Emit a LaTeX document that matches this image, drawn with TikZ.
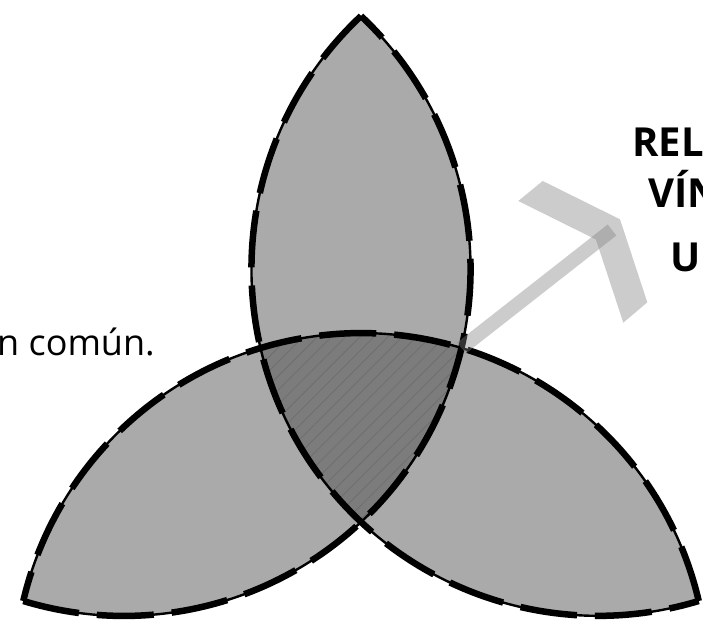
\documentclass[tikz,border=0pt]{standalone}
\usepackage{fontspec}
\setmainfont{Open Sans}
\usetikzlibrary{patterns.meta}
\definecolor{lensgray}{RGB}{170,170,170}
\definecolor{coregray}{RGB}{124,124,124}
\definecolor{hatchgray}{RGB}{110,110,110}
\definecolor{pointergray}{RGB}{128,128,128}
\tikzset{
  lensfill/.style={fill=lensgray},                 % petal
  corefill/.style={fill=coregray},                 % common part
  corehatch/.style={pattern={Lines[angle=45,distance=10pt,line width=0.8pt]},pattern color=hatchgray},
  rimdash/.style={draw=black,line width=6.5pt,dash pattern=on 57pt off 18pt},
  rim/.style={draw=black,line width=2.4pt,postaction={rimdash}},
  pointer/.style={draw=pointergray,opacity=0.4,line width=14pt},
  pointerhead/.style={fill=pointergray,opacity=0.4},
  plain/.style={font=\fontsize{36}{43}\selectfont,inner sep=0pt},
  heading/.style={font=\fontsize{40}{48}\selectfont\bfseries,inner sep=0pt},
}
\newcommand{\ringrad}{346.86}% radius of the three circles

\begin{document}
\begin{tikzpicture}[x=1pt,y=1pt]
  \useasboundingbox (0,0) rectangle (703,626);
  \coordinate (C) at (361,220);
  \path (C) ++(150:116) coordinate (lj);
  \path (C) ++(30:116) coordinate (rj);
  \path (C) ++(270:116) coordinate (bj);
  % petals
  \foreach \p in {30,150,270}
    \fill[lensfill] (C) ++(\p:274) ++(\p+103.17:\ringrad)
      arc[start angle=\p+103.17, end angle=\p+196.83, radius=\ringrad]
      arc[start angle=\p+283.17, end angle=\p+376.83, radius=\ringrad] -- cycle;
  % common part
  \path[corehatch,preaction={corefill}] (lj)
    arc[start angle=193.17, end angle=226.83, radius=\ringrad]
    arc[start angle=313.17, end angle=346.83, radius=\ringrad]
    arc[start angle=433.17, end angle=466.83, radius=\ringrad] -- cycle;
  % outlines
  \foreach \p in {30,150,270}
    \draw[rim] (C) ++(\p:274) ++(\p+103.17:\ringrad)
      arc[start angle=\p+103.17, end angle=\p+256.83, radius=\ringrad];
  % arrow
  \coordinate (tipv) at (612,396);
  \draw[pointer] (rj) -- (tipv);
  \fill[pointerhead] (542.7,445) -- (620,406.7) -- (647.3,323.7) -- (623.3,303.3)
    -- (595.9,386.5) -- (518.3,425) -- cycle;
  % labels
  \node[plain,anchor=base west] (common) at (-3,270) {n común.};
  \node[heading,anchor=base west] (rel) at (632,469) {REL};
  \node[heading,anchor=base west] (vin) at (648,418) {VÍN};
  \node[heading,anchor=base west] (uni) at (670,354) {U};
\end{tikzpicture}
\end{document}
